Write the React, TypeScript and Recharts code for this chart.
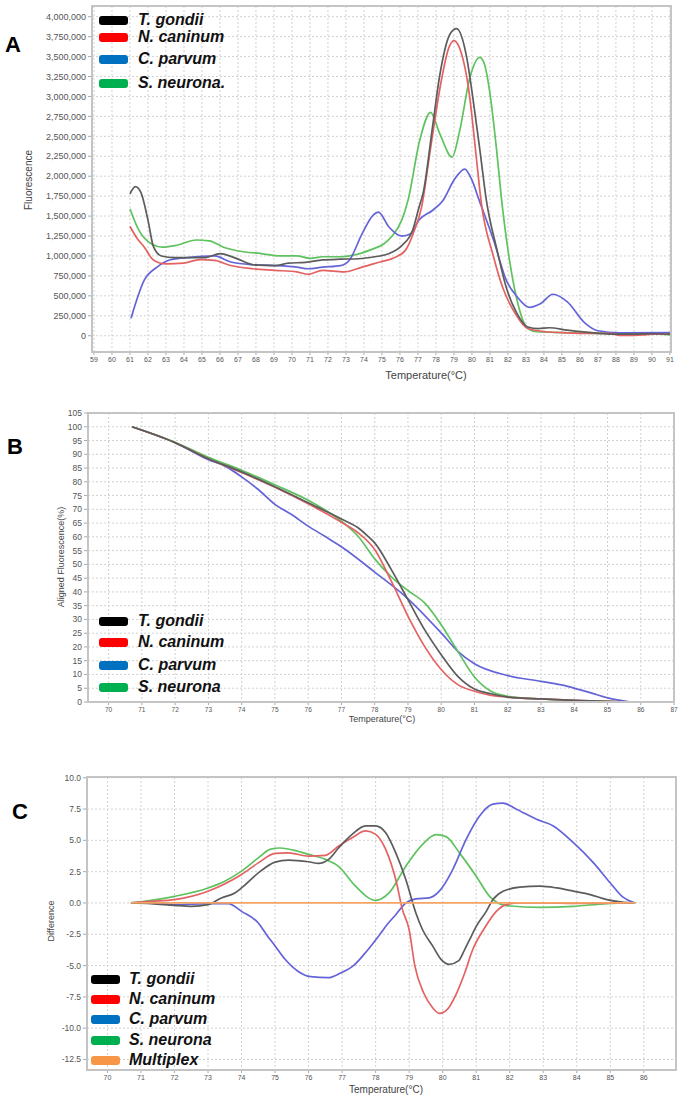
import { LineChart, Line, XAxis, YAxis, CartesianGrid } from 'recharts'

const FONT = '"Liberation Sans", Arial, sans-serif'

// ---- Panel A: melt peaks (fluorescence vs temperature) ----
const aXTicks = [59, 60, 61, 62, 63, 64, 65, 66, 67, 68, 69, 70, 71, 72, 73, 74, 75, 76, 77, 78, 79, 80, 81, 82, 83, 84, 85, 86, 87, 88, 89, 90, 91]
const aYTicks = [0, 250000, 500000, 750000, 1000000, 1250000, 1500000, 1750000, 2000000, 2250000, 2500000, 2750000, 3000000, 3250000, 3500000, 3750000, 4000000]

const aGondiiT = [61.0, 61.3, 61.6, 62.0, 62.3, 62.75, 63.5, 65.2, 66.0, 66.9, 67.85, 69.06, 69.8, 70.75, 71.7, 72.7, 73.7, 74.6, 75.4, 76.1, 76.7, 77.06, 77.3, 77.8, 78.2, 78.8, 79.15, 79.7, 80.07, 80.44, 80.8, 81.4, 81.9, 82.5, 83.1, 83.7, 84.3, 85.3, 86.5, 87.7, 89.0, 90.0, 91.0]
const aGondiiV = [1780000, 1870000, 1800000, 1450000, 1120000, 1000000, 980000, 980000, 1030000, 970000, 890000, 880000, 910000, 920000, 950000, 960000, 965000, 990000, 1030000, 1130000, 1320000, 1610000, 1800000, 2600000, 3250000, 3790000, 3850000, 3500000, 2950000, 2330000, 1700000, 1070000, 610000, 280000, 110000, 90000, 100000, 70000, 42000, 21000, 20000, 25000, 20000]

const aCaninumT = [61.0, 61.4, 61.8, 62.3, 63.0, 63.97, 64.9, 65.7, 66.6, 67.85, 69.06, 70.27, 70.9, 71.7, 72.9, 73.9, 74.9, 75.6, 76.3, 76.8, 77.2, 77.7, 78.3, 78.7, 79.0, 79.4, 79.8, 80.26, 80.5, 81.2, 81.7, 82.4, 83.1, 84.1, 85.3, 86.5, 87.7, 88.2, 89.0, 89.5, 90.0, 91.0]
const aCaninumV = [1370000, 1220000, 1110000, 950000, 900000, 910000, 955000, 945000, 880000, 840000, 820000, 800000, 770000, 820000, 800000, 860000, 925000, 970000, 1070000, 1320000, 1610000, 2350000, 3200000, 3600000, 3700000, 3550000, 3120000, 2200000, 1700000, 990000, 610000, 280000, 90000, 50000, 37000, 30000, 29000, 5000, 5000, 10000, 20000, 20000]

const aParvumT = [61.06, 61.8, 62.5, 63.2, 64.2, 65.7, 66.6, 67.85, 69.06, 70.27, 70.9, 71.7, 72.7, 73.2, 73.9, 74.5, 74.8, 75.4, 76.1, 76.6, 77.06, 77.8, 78.4, 79.0, 79.6, 80.0, 80.4, 81.2, 81.9, 82.5, 83.2, 83.8, 84.5, 85.3, 86.3, 87.0, 88.2, 91.0]
const aParvumV = [220000, 700000, 860000, 950000, 980000, 1000000, 925000, 890000, 880000, 860000, 840000, 860000, 880000, 950000, 1280000, 1510000, 1550000, 1360000, 1250000, 1280000, 1450000, 1570000, 1700000, 1950000, 2090000, 1950000, 1700000, 1200000, 700000, 490000, 355000, 400000, 520000, 425000, 155000, 62000, 37000, 40000]

const aNeuronaT = [61.0, 61.5, 62.2, 62.8, 63.5, 64.7, 65.4, 66.2, 67.4, 68.3, 69.3, 70.27, 71.0, 71.7, 72.7, 73.4, 74.4, 75.1, 75.6, 76.1, 76.45, 77.1, 77.7, 78.2, 78.9, 79.3, 79.9, 80.44, 80.7, 81.0, 81.37, 81.65, 82.15, 82.6, 83.1, 83.6, 85.0, 87.0, 89.0, 90.5, 91.0]
const aNeuronaV = [1590000, 1320000, 1150000, 1110000, 1130000, 1200000, 1190000, 1110000, 1050000, 1030000, 1000000, 1000000, 970000, 990000, 990000, 1010000, 1080000, 1150000, 1260000, 1450000, 1700000, 2450000, 2800000, 2540000, 2240000, 2550000, 3250000, 3490000, 3400000, 3040000, 2330000, 1700000, 860000, 360000, 90000, 50000, 40000, 30000, 30000, 20000, 10000]

// ---- Panel B: aligned fluorescence (%) ----
const bXTicks = [70, 71, 72, 73, 74, 75, 76, 77, 78, 79, 80, 81, 82, 83, 84, 85, 86, 87]
const bYTicks = [0, 5, 10, 15, 20, 25, 30, 35, 40, 45, 50, 55, 60, 65, 70, 75, 80, 85, 90, 95, 100, 105]

const bGondiiT = [70.7, 72, 73, 74, 75, 76, 77, 77.5, 77.8, 78, 78.5, 79, 79.5, 80, 80.5, 81, 81.5, 82, 83, 84, 85, 85.7]
const bGondiiV = [100, 94.2, 88.4, 83.6, 78.2, 72.4, 66.5, 63.3, 60.2, 57.8, 48.1, 37.2, 26.3, 17.2, 9.3, 4.7, 3.0, 1.8, 1.1, 0.6, 0.2, 0]
const bCaninumT = [70.7, 72, 73, 74, 75, 76, 77, 77.5, 78, 78.5, 79, 79.5, 80, 80.5, 81, 81.5, 82, 83, 84, 85, 85.5]
const bCaninumV = [100, 94.2, 88.4, 83.4, 78.0, 72.0, 65.3, 61.5, 55.4, 43.9, 31.2, 20.2, 11.8, 6.3, 3.9, 2.4, 1.8, 1.1, 0.6, 0.2, 0]
const bParvumT = [70.7, 72, 73, 73.5, 74, 74.5, 75, 75.5, 76, 76.5, 77, 78, 79, 80, 80.5, 81, 82, 83, 83.8, 84.5, 85, 85.7]
const bParvumV = [100, 94.2, 88.0, 85.7, 81.8, 77.2, 71.8, 68.1, 63.9, 60.2, 56.4, 47.2, 37.5, 25.1, 18.4, 13.9, 9.6, 7.5, 5.7, 3.3, 1.5, 0]
const bNeuronaT = [70.7, 72, 73, 74, 75, 76, 77, 77.5, 78, 78.5, 79, 79.5, 80, 80.5, 81, 81.5, 82, 83, 84, 85, 85.5]
const bNeuronaV = [100, 94.4, 88.9, 84.2, 78.9, 73.3, 65.7, 60.2, 52.0, 45.5, 40.5, 36.0, 28.1, 18.4, 9.1, 3.9, 2.1, 1.1, 0.5, 0.2, 0]

// ---- Panel C: difference plot ----
const cXTicks = [70, 71, 72, 73, 74, 75, 76, 77, 78, 79, 80, 81, 82, 83, 84, 85, 86]
const cYTicks = [-12.5, -10, -7.5, -5, -2.5, 0, 2.5, 5, 7.5, 10]

const cGondiiT = [70.7, 71.3, 72, 72.5, 73, 73.4, 73.8, 74, 74.5, 75, 75.4, 76, 76.3, 76.6, 76.9, 77.3, 77.7, 78, 78.3, 78.6, 78.9, 79.2, 79.4, 79.7, 79.95, 80.2, 80.47, 80.66, 80.86, 81, 81.3, 81.5, 81.8, 82.3, 82.9, 83.4, 83.9, 84.4, 84.9, 85.4, 85.7]
const cGondiiV = [0, -0.05, -0.19, -0.27, -0.13, 0.4, 0.8, 1.2, 2.4, 3.26, 3.42, 3.29, 3.16, 3.48, 4.41, 5.48, 6.15, 6.15, 5.6, 4.0, 1.87, -0.8, -2.14, -3.43, -4.5, -4.9, -4.63, -3.7, -2.63, -1.87, -0.67, 0.27, 0.94, 1.26, 1.34, 1.2, 0.94, 0.67, 0.27, 0.05, 0]
const cCaninumT = [70.7, 71.3, 72, 73, 74, 74.5, 75, 75.4, 76, 76.5, 76.9, 77.3, 77.7, 78, 78.3, 78.6, 78.8, 79.0, 79.17, 79.43, 79.7, 79.9, 80.14, 80.4, 80.66, 80.9, 81.25, 81.6, 81.9, 82.3, 83, 84, 85, 85.7]
const cCaninumV = [0, 0.13, 0.27, 0.94, 2.27, 3.2, 3.96, 4.0, 3.74, 3.8, 4.55, 5.2, 5.75, 5.48, 4.28, 1.87, -0.53, -2.14, -5.03, -7.17, -8.37, -8.82, -8.5, -7.3, -5.57, -3.7, -2.0, -0.67, -0.13, 0, 0, -0.03, -0.02, 0]
const cParvumT = [70.7, 71.3, 72, 73, 73.6, 74, 74.5, 74.75, 75, 75.3, 75.67, 76.06, 76.58, 76.97, 77.35, 77.74, 78.1, 78.35, 78.6, 78.9, 79.2, 79.6, 79.9, 80.3, 80.7, 81.1, 81.5, 81.8, 82.2, 82.8, 83.3, 83.9, 84.5, 85.0, 85.35, 85.75]
const cParvumV = [0, 0, -0.13, -0.05, -0.05, -0.67, -1.6, -2.55, -3.43, -4.5, -5.43, -5.89, -5.97, -5.57, -4.98, -3.83, -2.6, -1.7, -0.94, 0, 0.32, 0.4, 0.94, 2.67, 5.08, 6.95, 7.89, 7.97, 7.49, 6.68, 6.15, 4.81, 3.2, 1.6, 0.53, 0]
const cNeuronaT = [70.7, 71.3, 72, 73, 73.5, 74, 74.5, 74.85, 75.15, 75.55, 76, 76.5, 76.9, 77.4, 78, 78.4, 78.9, 79.4, 79.8, 80.1, 80.5, 81, 81.4, 81.9, 82.9, 83.9, 84.9, 85.65]
const cNeuronaV = [0, 0.21, 0.53, 1.2, 1.74, 2.54, 3.6, 4.28, 4.39, 4.22, 3.88, 3.48, 2.9, 1.34, 0.21, 0.8, 2.94, 4.68, 5.45, 5.3, 4.0, 2.14, 0.53, -0.21, -0.35, -0.27, -0.05, 0]
const cMultiplexT = [70.7, 85.75]
const cMultiplexV = [0, 0]

// legend names / swatch colours
const names4 = ['T. gondii', 'N. caninum', 'C. parvum', 'S. neurona']
const namesA = ['T. gondii', 'N. caninum', 'C. parvum', 'S. neurona.']
const names5 = ['T. gondii', 'N. caninum', 'C. parvum', 'S. neurona', 'Multiplex']
const swatchColors = ['#000000', '#ff0000', '#0070c0', '#00b050', '#f79646']

// line colours as drawn in the plots
const LC = { gondii: '#5c5c5c', caninum: '#e46262', parvum: '#6464d8', neurona: '#5ec25e', multiplex: '#f4a466' }

type Pt = { t: number; v: number }
const zip = (t: number[], v: number[]): Pt[] => t.map((x, i) => ({ t: x, v: v[i] }))

interface Series { key: string; color: string; data: Pt[] }

interface PanelProps {
  top: number
  height: number
  plot: { left: number; right: number; top: number; bottom: number }
  xDomain: [number, number]
  xTicks: number[]
  yDomain: [number, number]
  yTicks: number[]
  yFmt: (v: number) => string
  series: Series[]
  xFont: number
  yFont: number
}

function Panel({ top, height, plot, xDomain, xTicks, yDomain, yTicks, yFmt, series, xFont, yFont }: PanelProps) {
  return (
    <div style={{ position: 'absolute', left: 0, top, width: 682, height }}>
      <LineChart
        width={682}
        height={height}
        margin={{ top: plot.top, right: 682 - plot.right, bottom: 0, left: 0 }}
      >
        <CartesianGrid stroke="#d2d2d2" strokeDasharray="2 2" />
        <XAxis
          dataKey="t"
          type="number"
          domain={xDomain}
          ticks={xTicks}
          interval={0}
          allowDataOverflow
          height={height - plot.bottom}
          tick={{ fontSize: xFont, fill: '#555', fontFamily: FONT }}
          tickSize={3}
          axisLine={{ stroke: '#aaa' }}
          tickLine={{ stroke: '#aaa' }}
        />
        <YAxis
          type="number"
          domain={yDomain}
          ticks={yTicks}
          interval={0}
          allowDataOverflow
          width={plot.left}
          tickFormatter={yFmt}
          tick={{ fontSize: yFont, fill: '#555', fontFamily: FONT }}
          tickSize={4}
          axisLine={{ stroke: '#aaa' }}
          tickLine={{ stroke: '#aaa' }}
        />
        {series.map((s) => (
          <Line
            key={s.key}
            data={s.data}
            dataKey="v"
            type="monotone"
            stroke={s.color}
            strokeWidth={1.7}
            dot={false}
            activeDot={false}
            isAnimationActive={false}
          />
        ))}
      </LineChart>
      <div
        style={{
          position: 'absolute',
          left: plot.left - 1,
          top: plot.top - 1,
          width: plot.right - plot.left + 2,
          height: plot.bottom - plot.top + 2,
          border: '2px solid #c4c4c4',
          boxSizing: 'border-box',
          pointerEvents: 'none',
        }}
      />
    </div>
  )
}

function Legend({ names, rows, swatchX, textX, fontSize }: { names: string[]; rows: number[]; swatchX: number; textX: number; fontSize: number }) {
  return (
    <>
      {names.map((n, i) => (
        <div key={n}>
          <div
            style={{
              position: 'absolute',
              left: swatchX,
              top: rows[i] - 4.5,
              width: 29,
              height: 9,
              borderRadius: 3,
              background: swatchColors[i],
            }}
          />
          <div
            style={{
              position: 'absolute',
              left: textX,
              top: rows[i] - fontSize * 0.6,
              fontFamily: FONT,
              fontWeight: 'bold',
              fontStyle: 'italic',
              fontSize,
              lineHeight: 1.2 + '',
              whiteSpace: 'nowrap',
              color: '#111',
            }}
          >
            {n}
          </div>
        </div>
      ))}
    </>
  )
}

function Text({ x, y, size, children, rotate, bold }: { x: number; y: number; size: number; children: string; rotate?: boolean; bold?: boolean }) {
  return (
    <div
      style={{
        position: 'absolute',
        left: x,
        top: y,
        transform: `translate(-50%, -50%)${rotate ? ' rotate(-90deg)' : ''}`,
        fontFamily: FONT,
        fontSize: size,
        fontWeight: bold ? 'bold' : 'normal',
        color: bold ? '#000' : '#444',
        whiteSpace: 'nowrap',
        lineHeight: 1,
      }}
    >
      {children}
    </div>
  )
}

const fmtComma = (v: number) => v.toLocaleString('en-US')
const fmtInt = (v: number) => String(v)
const fmt1 = (v: number) => v.toFixed(1)

export default function App() {
  const seriesA: Series[] = [
    { key: 'neurona', color: LC.neurona, data: zip(aNeuronaT, aNeuronaV) },
    { key: 'parvum', color: LC.parvum, data: zip(aParvumT, aParvumV) },
    { key: 'caninum', color: LC.caninum, data: zip(aCaninumT, aCaninumV) },
    { key: 'gondii', color: LC.gondii, data: zip(aGondiiT, aGondiiV) },
  ]
  const seriesB: Series[] = [
    { key: 'parvum', color: LC.parvum, data: zip(bParvumT, bParvumV) },
    { key: 'neurona', color: LC.neurona, data: zip(bNeuronaT, bNeuronaV) },
    { key: 'caninum', color: LC.caninum, data: zip(bCaninumT, bCaninumV) },
    { key: 'gondii', color: LC.gondii, data: zip(bGondiiT, bGondiiV) },
  ]
  const seriesC: Series[] = [
    { key: 'neurona', color: LC.neurona, data: zip(cNeuronaT, cNeuronaV) },
    { key: 'parvum', color: LC.parvum, data: zip(cParvumT, cParvumV) },
    { key: 'caninum', color: LC.caninum, data: zip(cCaninumT, cCaninumV) },
    { key: 'gondii', color: LC.gondii, data: zip(cGondiiT, cGondiiV) },
    { key: 'multiplex', color: LC.multiplex, data: zip(cMultiplexT, cMultiplexV) },
  ]

  return (
    <div style={{ position: 'absolute', left: 0, top: 0, width: 682, height: 1104, background: '#fff', overflow: 'hidden' }}>
      {/* A */}
      <Panel
        top={0}
        height={390}
        plot={{ left: 92, right: 671, top: 6, bottom: 352 }}
        xDomain={[58.89, 91.06]}
        xTicks={aXTicks}
        yDomain={[-204000, 4134000]}
        yTicks={aYTicks}
        yFmt={fmtComma}
        series={seriesA}
        xFont={7}
        yFont={9}
      />
      <Text x={13} y={45} size={22} bold>A</Text>
      <Text x={29} y={180} size={10} rotate>Fluorescence</Text>
      <Text x={426} y={375} size={11}>Temperature(°C)</Text>
      <Legend names={namesA} rows={[20, 37, 59, 83]} swatchX={99} textX={138} fontSize={16} />

      {/* B */}
      <Panel
        top={390}
        height={340}
        plot={{ left: 88, right: 674, top: 23, bottom: 312 }}
        xDomain={[69.38, 87.0]}
        xTicks={bXTicks}
        yDomain={[0, 105]}
        yTicks={bYTicks}
        yFmt={fmtInt}
        series={seriesB}
        xFont={6.5}
        yFont={8.5}
      />
      <Text x={15} y={447} size={22} bold>B</Text>
      <Text x={61} y={557} size={9} rotate>Aligned Fluorescence(%)</Text>
      <Text x={382} y={719} size={9}>Temperature(°C)</Text>
      <Legend names={names4} rows={[621, 642, 665, 687]} swatchX={99} textX={138} fontSize={16} />

      {/* C */}
      <Panel
        top={730}
        height={374}
        plot={{ left: 87, right: 676, top: 47, bottom: 340 }}
        xDomain={[69.39, 86.96]}
        xTicks={cXTicks}
        yDomain={[-13.34, 10.06]}
        yTicks={cYTicks}
        yFmt={fmt1}
        series={seriesC}
        xFont={7}
        yFont={8.5}
      />
      <Text x={20} y={812} size={22} bold>C</Text>
      <Text x={51} y={921} size={9} rotate>Difference</Text>
      <Text x={386} y={1090} size={10}>Temperature(°C)</Text>
      <Legend names={names5} rows={[979, 999, 1019, 1040, 1060]} swatchX={91} textX={129} fontSize={16} />
    </div>
  )
}
